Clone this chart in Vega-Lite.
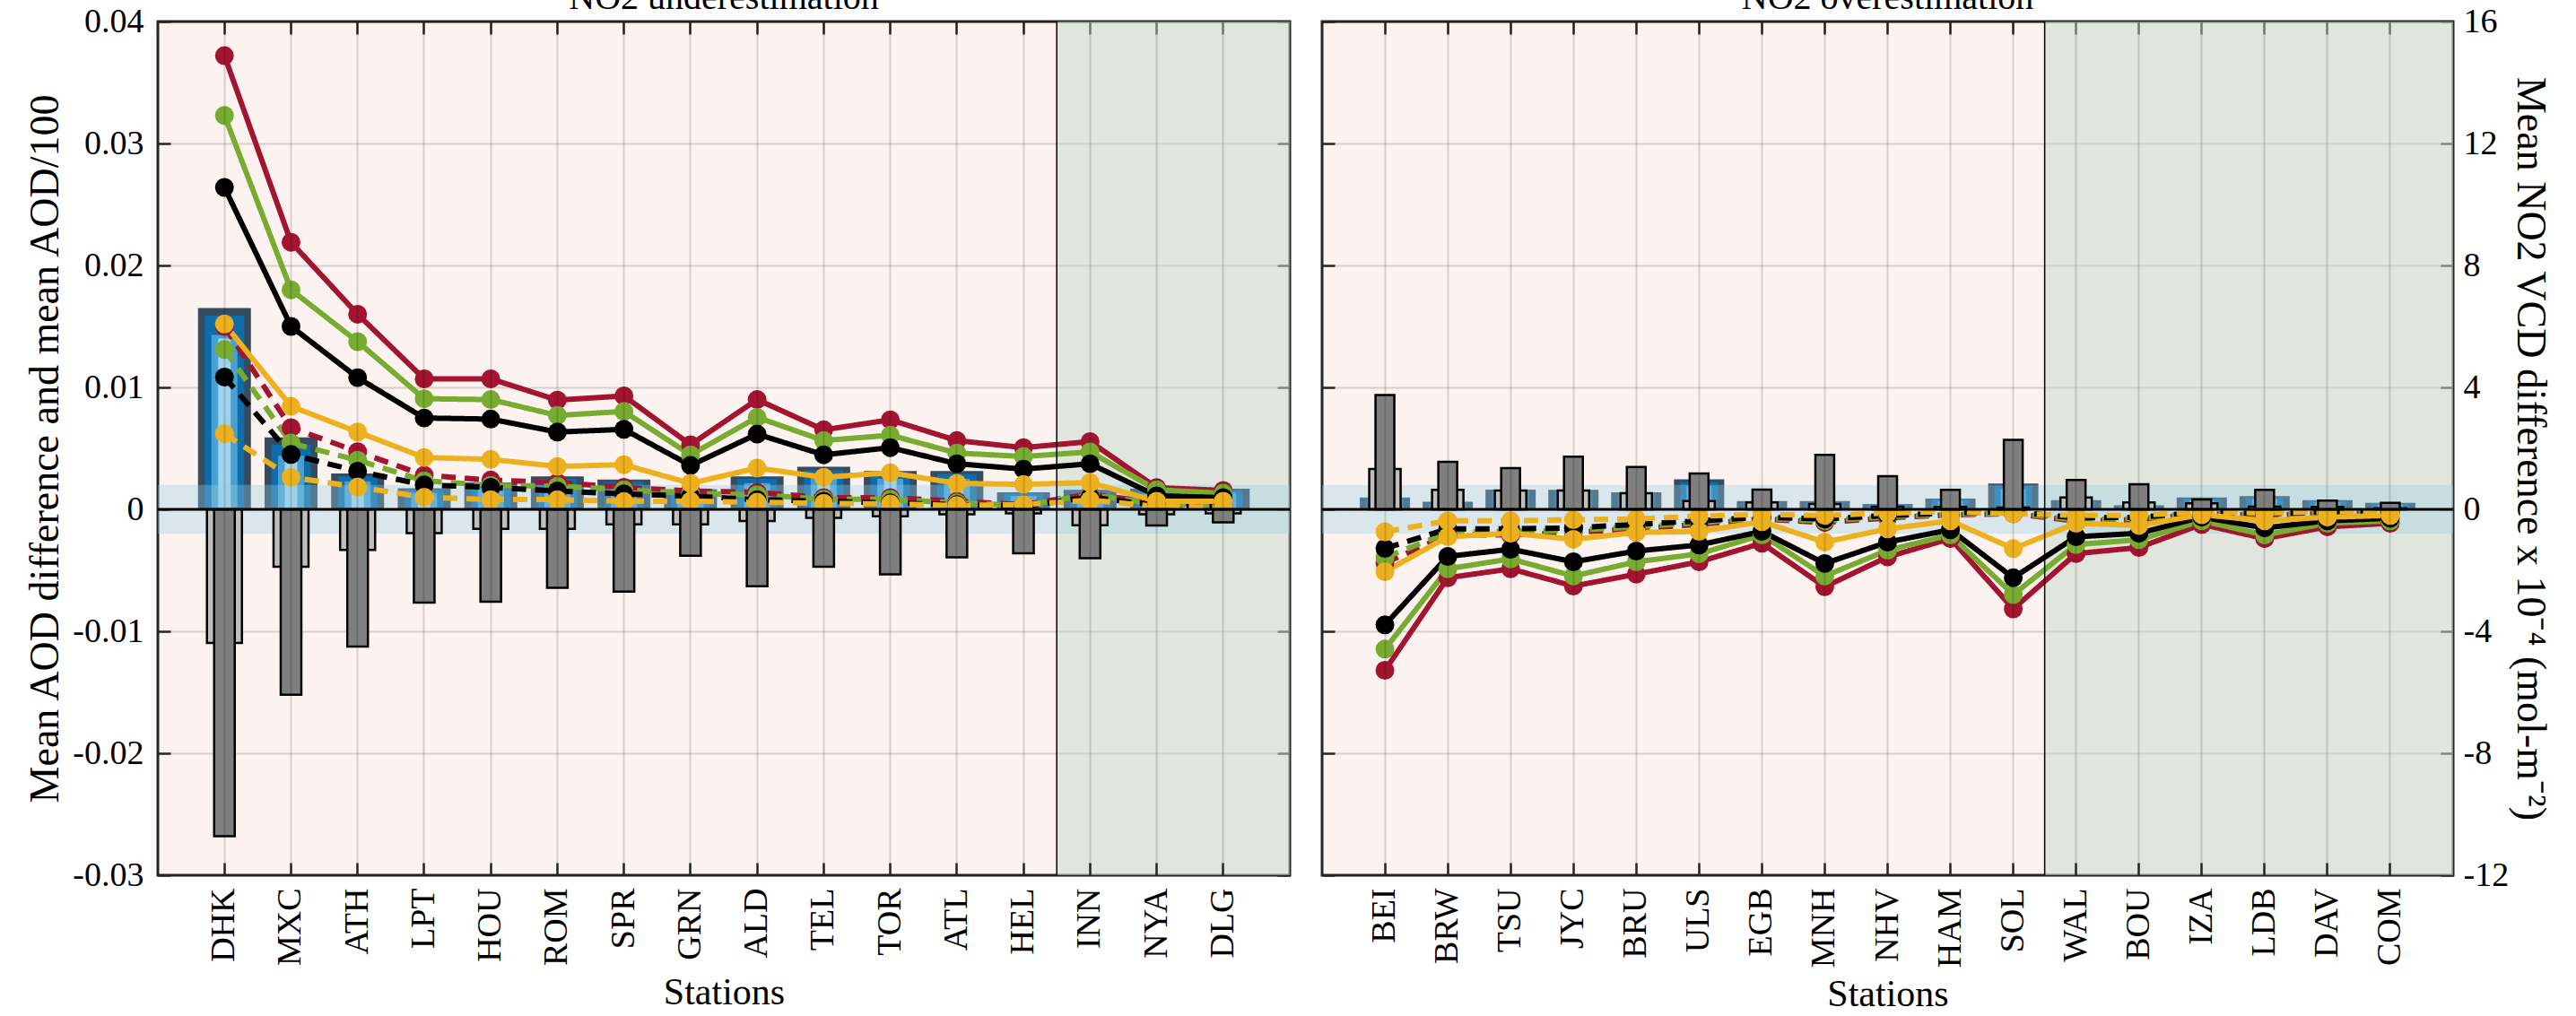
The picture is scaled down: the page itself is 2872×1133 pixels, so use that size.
{
  "$schema": "https://vega.github.io/schema/vega-lite/v6.json",
  "background": "white",
  "padding": {"left": 26, "top": -24, "right": 20, "bottom": 0},
  "config": {
    "font": "Liberation Serif",
    "view": {"fill": "#FCF3F0", "stroke": "#262626", "strokeWidth": 3},
    "axis": {"labelFont": "Liberation Serif", "titleFont": "Liberation Serif", "labelColor": "#000", "titleColor": "#000", "labelFontSize": 38, "titleFontSize": 44, "titleFontWeight": "normal", "domain": false, "tickColor": "#262626", "tickWidth": 2.5, "tickSize": -14, "gridColor": "#000", "gridOpacity": 0.14, "gridWidth": 2},
    "title": {"font": "Liberation Serif", "fontSize": 40, "fontWeight": "normal", "color": "#000"}
  },
  "datasets": {
    "under": [
      {"station": "DHK", "aod1": 0.0165, "aod2": 0.0159, "aod3": 0.0143, "aod4": 0.0140, "vcd1": -4.38, "vcd2": -10.72, "L1": 0.0372, "L2": 0.0323, "L3": 0.0264, "L4": 0.0152, "D1": 0.0150, "D2": 0.0131, "D3": 0.01085, "D4": 0.0062},
      {"station": "MXC", "aod1": 0.0059, "aod2": 0.0053, "aod3": 0.0044, "aod4": 0.0043, "vcd1": -1.88, "vcd2": -6.08, "L1": 0.0219, "L2": 0.0180, "L3": 0.0150, "L4": 0.00845, "D1": 0.0067, "D2": 0.00544, "D3": 0.0045, "D4": 0.00262},
      {"station": "ATH", "aod1": 0.00295, "aod2": 0.0027, "aod3": 0.0023, "aod4": 0.0022, "vcd1": -1.33, "vcd2": -4.5, "L1": 0.0160, "L2": 0.01375, "L3": 0.0108, "L4": 0.00634, "D1": 0.00473, "D2": 0.00403, "D3": 0.00313, "D4": 0.00183},
      {"station": "LPT", "aod1": 0.00173, "aod2": 0.0016, "aod3": 0.00135, "aod4": 0.0013, "vcd1": -0.78, "vcd2": -3.06, "L1": 0.0107, "L2": 0.00907, "L3": 0.00749, "L4": 0.00425, "D1": 0.0028, "D2": 0.00234, "D3": 0.0020, "D4": 0.0010},
      {"station": "HOU", "aod1": 0.0022, "aod2": 0.0020, "aod3": 0.00175, "aod4": 0.0017, "vcd1": -0.64, "vcd2": -3.03, "L1": 0.0107, "L2": 0.0090, "L3": 0.0074, "L4": 0.0041, "D1": 0.0024, "D2": 0.00197, "D3": 0.0018, "D4": 0.0008},
      {"station": "ROM", "aod1": 0.0027, "aod2": 0.0025, "aod3": 0.00215, "aod4": 0.0021, "vcd1": -0.64, "vcd2": -2.57, "L1": 0.00896, "L2": 0.0077, "L3": 0.00634, "L4": 0.00352, "D1": 0.0022, "D2": 0.0019, "D3": 0.0015, "D4": 0.0008},
      {"station": "SPR", "aod1": 0.00245, "aod2": 0.00225, "aod3": 0.00195, "aod4": 0.0019, "vcd1": -0.49, "vcd2": -2.7, "L1": 0.0093, "L2": 0.00803, "L3": 0.00656, "L4": 0.00366, "D1": 0.0018, "D2": 0.0016, "D3": 0.00127, "D4": 0.00065},
      {"station": "GRN", "aod1": 0.00165, "aod2": 0.0015, "aod3": 0.0013, "aod4": 0.00125, "vcd1": -0.49, "vcd2": -1.52, "L1": 0.0053, "L2": 0.00447, "L3": 0.0036, "L4": 0.00213, "D1": 0.0015, "D2": 0.0013, "D3": 0.00108, "D4": 0.00067},
      {"station": "ALD", "aod1": 0.0027, "aod2": 0.0025, "aod3": 0.00215, "aod4": 0.0021, "vcd1": -0.38, "vcd2": -2.52, "L1": 0.0090, "L2": 0.00754, "L3": 0.00617, "L4": 0.00339, "D1": 0.0014, "D2": 0.0012, "D3": 0.0008, "D4": 0.00058},
      {"station": "TEL", "aod1": 0.0035, "aod2": 0.0032, "aod3": 0.0028, "aod4": 0.0027, "vcd1": -0.28, "vcd2": -1.88, "L1": 0.00652, "L2": 0.00564, "L3": 0.00447, "L4": 0.00263, "D1": 0.00096, "D2": 0.00082, "D3": 0.00067, "D4": 0.0005},
      {"station": "TOR", "aod1": 0.00315, "aod2": 0.0029, "aod3": 0.0025, "aod4": 0.00245, "vcd1": -0.23, "vcd2": -2.13, "L1": 0.00734, "L2": 0.00608, "L3": 0.00506, "L4": 0.0030, "D1": 0.00096, "D2": 0.00082, "D3": 0.00053, "D4": 0.00044},
      {"station": "ATL", "aod1": 0.00315, "aod2": 0.0029, "aod3": 0.0025, "aod4": 0.00245, "vcd1": -0.16, "vcd2": -1.57, "L1": 0.00564, "L2": 0.00462, "L3": 0.00374, "L4": 0.00213, "D1": 0.00067, "D2": 0.00053, "D3": 0.00038, "D4": 0.00032},
      {"station": "HEL", "aod1": 0.0014, "aod2": 0.0013, "aod3": 0.0011, "aod4": 0.00105, "vcd1": -0.13, "vcd2": -1.44, "L1": 0.00506, "L2": 0.00433, "L3": 0.0033, "L4": 0.00205, "D1": 0.00038, "D2": 0.00032, "D3": 0.00023, "D4": 0.00038},
      {"station": "INN", "aod1": 0.0016, "aod2": 0.00145, "aod3": 0.00125, "aod4": 0.0012, "vcd1": -0.52, "vcd2": -1.6, "L1": 0.00556, "L2": 0.00471, "L3": 0.00374, "L4": 0.00219, "D1": 0.00126, "D2": 0.0012, "D3": 0.00102, "D4": 0.00076},
      {"station": "NYA", "aod1": 0.0017, "aod2": 0.00155, "aod3": 0.00135, "aod4": 0.0013, "vcd1": -0.16, "vcd2": -0.53, "L1": 0.00178, "L2": 0.0016, "L3": 0.00111, "L4": 0.00067, "D1": 0.00053, "D2": 0.00044, "D3": 0.00032, "D4": 0.00023},
      {"station": "DLG", "aod1": 0.0017, "aod2": 0.00155, "aod3": 0.00135, "aod4": 0.0013, "vcd1": -0.13, "vcd2": -0.43, "L1": 0.00155, "L2": 0.00132, "L3": 0.00096, "L4": 0.00067, "D1": 0.00038, "D2": 0.00032, "D3": 0.00023, "D4": 0.0002}
    ],
    "over": [
      {"station": "BEI", "aod1": 0.00098, "aod2": 0.0009, "aod3": 0.00078, "aod4": 0.00075, "vcd1": 1.32, "vcd2": 3.75, "L1": -0.0132, "L2": -0.01146, "L3": -0.00947, "L4": -0.00512, "D1": -0.0044, "D2": -0.00395, "D3": -0.0032, "D4": -0.00184},
      {"station": "BRW", "aod1": 0.00062, "aod2": 0.00056, "aod3": 0.00048, "aod4": 0.00046, "vcd1": 0.64, "vcd2": 1.56, "L1": -0.00561, "L2": -0.00488, "L3": -0.00386, "L4": -0.00225, "D1": -0.0021, "D2": -0.0019, "D3": -0.0016, "D4": -0.00094},
      {"station": "TSU", "aod1": 0.00162, "aod2": 0.00146, "aod3": 0.00126, "aod4": 0.0012, "vcd1": 0.62, "vcd2": 1.35, "L1": -0.00488, "L2": -0.00406, "L3": -0.00327, "L4": -0.00196, "D1": -0.0021, "D2": -0.0018, "D3": -0.0016, "D4": -0.00094},
      {"station": "JYC", "aod1": 0.0016, "aod2": 0.00144, "aod3": 0.00125, "aod4": 0.0012, "vcd1": 0.62, "vcd2": 1.73, "L1": -0.00629, "L2": -0.00547, "L3": -0.0043, "L4": -0.00246, "D1": -0.0019, "D2": -0.00172, "D3": -0.00152, "D4": -0.00085},
      {"station": "BRU", "aod1": 0.0014, "aod2": 0.00126, "aod3": 0.00109, "aod4": 0.00105, "vcd1": 0.53, "vcd2": 1.39, "L1": -0.00532, "L2": -0.0043, "L3": -0.00342, "L4": -0.0019, "D1": -0.0016, "D2": -0.00143, "D3": -0.00123, "D4": -0.00079},
      {"station": "ULS", "aod1": 0.00247, "aod2": 0.00222, "aod3": 0.00193, "aod4": 0.00185, "vcd1": 0.27, "vcd2": 1.18, "L1": -0.0043, "L2": -0.00365, "L3": -0.00292, "L4": -0.00181, "D1": -0.00123, "D2": -0.00108, "D3": -0.00094, "D4": -0.00056},
      {"station": "EGB", "aod1": 0.00068, "aod2": 0.00061, "aod3": 0.00053, "aod4": 0.00051, "vcd1": 0.23, "vcd2": 0.65, "L1": -0.00278, "L2": -0.0021, "L3": -0.00181, "L4": -0.00102, "D1": -0.00079, "D2": -0.00073, "D3": -0.00064, "D4": -0.00041},
      {"station": "MNH", "aod1": 0.00068, "aod2": 0.00061, "aod3": 0.00053, "aod4": 0.00051, "vcd1": 0.18, "vcd2": 1.79, "L1": -0.00635, "L2": -0.00547, "L3": -0.00444, "L4": -0.00269, "D1": -0.00108, "D2": -0.00094, "D3": -0.00079, "D4": -0.0005},
      {"station": "NHV", "aod1": 0.00045, "aod2": 0.0004, "aod3": 0.00035, "aod4": 0.00034, "vcd1": 0.09, "vcd2": 1.09, "L1": -0.0039, "L2": -0.00335, "L3": -0.00269, "L4": -0.0016, "D1": -0.0007, "D2": -0.0006, "D3": -0.0005, "D4": -0.0003},
      {"station": "HAM", "aod1": 0.00088, "aod2": 0.00079, "aod3": 0.00069, "aod4": 0.00066, "vcd1": 0.08, "vcd2": 0.64, "L1": -0.0024, "L2": -0.0021, "L3": -0.00167, "L4": -0.00094, "D1": -0.00045, "D2": -0.0004, "D3": -0.0003, "D4": -0.0002},
      {"station": "SOL", "aod1": 0.00212, "aod2": 0.00191, "aod3": 0.00165, "aod4": 0.00159, "vcd1": 0.06, "vcd2": 2.28, "L1": -0.00816, "L2": -0.00699, "L3": -0.00561, "L4": -0.00322, "D1": -0.00035, "D2": -0.0003, "D3": -0.0002, "D4": -0.00035},
      {"station": "WAL", "aod1": 0.00075, "aod2": 0.00068, "aod3": 0.00059, "aod4": 0.00056, "vcd1": 0.39, "vcd2": 0.96, "L1": -0.00363, "L2": -0.00289, "L3": -0.00225, "L4": -0.00114, "D1": -0.00095, "D2": -0.00085, "D3": -0.0007, "D4": -0.0005},
      {"station": "BOU", "aod1": 0.00033, "aod2": 0.0003, "aod3": 0.00026, "aod4": 0.00025, "vcd1": 0.23, "vcd2": 0.82, "L1": -0.00313, "L2": -0.00249, "L3": -0.00196, "L4": -0.00132, "D1": -0.00085, "D2": -0.00075, "D3": -0.00065, "D4": -0.0005},
      {"station": "IZA", "aod1": 0.00098, "aod2": 0.00088, "aod3": 0.00076, "aod4": 0.00074, "vcd1": 0.2, "vcd2": 0.32, "L1": -0.00123, "L2": -0.00094, "L3": -0.00064, "L4": -0.00044, "D1": -0.00035, "D2": -0.0003, "D3": -0.00025, "D4": -0.0002},
      {"station": "LDB", "aod1": 0.00108, "aod2": 0.00097, "aod3": 0.00084, "aod4": 0.00081, "vcd1": 0.09, "vcd2": 0.64, "L1": -0.0024, "L2": -0.0021, "L3": -0.00152, "L4": -0.00094, "D1": -0.0005, "D2": -0.00045, "D3": -0.00035, "D4": -0.0003},
      {"station": "DAV", "aod1": 0.00075, "aod2": 0.00068, "aod3": 0.00059, "aod4": 0.00056, "vcd1": 0.08, "vcd2": 0.29, "L1": -0.00143, "L2": -0.00114, "L3": -0.00094, "L4": -0.00064, "D1": -0.00035, "D2": -0.0003, "D3": -0.00025, "D4": -0.0002},
      {"station": "COM", "aod1": 0.00053, "aod2": 0.00048, "aod3": 0.00041, "aod4": 0.0004, "vcd1": 0.04, "vcd2": 0.21, "L1": -0.00114, "L2": -0.00094, "L3": -0.00073, "L4": -0.0005, "D1": -0.0003, "D2": -0.00025, "D3": -0.0002, "D4": -0.00015}
    ]
  },
  "spacing": 36,
  "bounds": "flush",
  "hconcat": [
    {
      "width": 1262,
      "height": 952,
      "title": {"text": "NO2 underestimation", "offset": -45, "baseline": "alphabetic", "frame": "group"},
      "layer": [
        {
          "layer": [
            {"data": {"values": [{}]}, "mark": {"type": "rect", "color": "#C9D9D0", "opacity": 0.55}, "encoding": {"x": {"datum": "INN", "type": "nominal", "bandPosition": 0}, "x2": {"value": "width"}, "y": {"value": 0}, "y2": {"value": "height"}}},
            {"data": {"name": "under"}, "mark": {"type": "bar", "size": 59, "color": "#344B60"},
             "encoding": {
               "x": {"field": "station", "type": "nominal", "scale": {"type": "band", "domain": ["DHK","MXC","ATH","LPT","HOU","ROM","SPR","GRN","ALD","TEL","TOR","ATL","HEL","INN","NYA","DLG"], "paddingInner": 0, "paddingOuter": 0.5}, "axis": {"orient": "bottom", "title": "Stations", "titleFontSize": 42, "titlePadding": 10, "labelAngle": -90, "labelPadding": 28, "grid": true}},
               "y": {"field": "aod1", "type": "quantitative", "scale": {"domain": [-0.03, 0.04], "nice": false, "zero": false}, "axis": {"orient": "left", "values": [-0.03, -0.02, -0.01, 0, 0.01, 0.02, 0.03, 0.04], "labelExpr": "datum.value == 0 ? '0' : (datum.value < 0 ? '-' + format(-datum.value, '.2f') : format(datum.value, '.2f'))", "title": "Mean AOD difference and mean AOD/100", "titleFontSize": 46, "labelPadding": 30, "titlePadding": 6, "grid": true}}
             }},
            {"data": {"name": "under"}, "mark": {"type": "bar", "size": 44, "color": "#0E6CAA"}, "encoding": {"x": {"field": "station", "type": "nominal"}, "y": {"field": "aod2", "type": "quantitative"}}},
            {"data": {"name": "under"}, "mark": {"type": "bar", "size": 29, "color": "#4AA0D2"}, "encoding": {"x": {"field": "station", "type": "nominal"}, "y": {"field": "aod3", "type": "quantitative"}}},
            {"data": {"name": "under"}, "mark": {"type": "bar", "size": 14, "color": "#9FD3EC"}, "encoding": {"x": {"field": "station", "type": "nominal"}, "y": {"field": "aod4", "type": "quantitative"}}},
            {"data": {"values": [{}]}, "mark": {"type": "rect", "color": "#99D0E6", "opacity": 0.35}, "encoding": {"x": {"value": 0}, "x2": {"value": "width"}, "y": {"datum": -0.002, "type": "quantitative"}, "y2": {"datum": 0.002}}},
            {"data": {"name": "under"}, "transform": [{"fold": ["D1","D2","D3","D4","L1","L2","L3","L4"], "as": ["series", "diff"]}],
             "mark": {"type": "line", "strokeWidth": 6},
             "encoding": {
               "x": {"field": "station", "type": "nominal"},
               "y": {"field": "diff", "type": "quantitative"},
               "color": {"field": "series", "type": "nominal", "scale": {"domain": ["D1","D2","D3","D4","L1","L2","L3","L4"], "range": ["#A2142F","#77AC30","#000000","#EDB120","#A2142F","#77AC30","#000000","#EDB120"]}, "legend": null},
               "strokeDash": {"field": "series", "type": "nominal", "scale": {"domain": ["D1","D2","D3","D4","L1","L2","L3","L4"], "range": [[16,10],[16,10],[16,10],[16,10],[1,0],[1,0],[1,0],[1,0]]}, "legend": null}
             }},
            {"data": {"name": "under"}, "transform": [{"fold": ["D1","D2","D3","D4","L1","L2","L3","L4"], "as": ["series", "diff"]}],
             "mark": {"type": "circle", "size": 440, "opacity": 1},
             "encoding": {
               "x": {"field": "station", "type": "nominal"},
               "y": {"field": "diff", "type": "quantitative"},
               "color": {"field": "series", "type": "nominal", "legend": null}
             }},
            {"data": {"values": [{}]}, "mark": {"type": "rule", "color": "#000", "strokeWidth": 1.5}, "encoding": {"x": {"datum": "INN", "type": "nominal", "bandPosition": 0}}}
          ]
        },
        {
          "layer": [
            {"data": {"name": "under"}, "mark": {"type": "bar", "size": 39, "color": "#BFBFBF", "stroke": "#000", "strokeWidth": 2.5},
             "encoding": {
               "x": {"field": "station", "type": "nominal", "axis": {"orient": "top", "labels": false, "title": null, "grid": false}},
               "y": {"field": "vcd1", "type": "quantitative", "scale": {"domain": [-12, 16], "nice": false, "zero": false}, "axis": {"orient": "right", "values": [-12, -8, -4, 0, 4, 8, 12, 16], "labels": false, "title": null, "grid": false}}
             }},
            {"data": {"name": "under"}, "mark": {"type": "bar", "size": 23, "color": "#7F7F7F", "stroke": "#000", "strokeWidth": 2.5}, "encoding": {"x": {"field": "station", "type": "nominal"}, "y": {"field": "vcd2", "type": "quantitative"}}},
            {"data": {"values": [{}]}, "mark": {"type": "rule", "color": "#000", "strokeWidth": 3}, "encoding": {"y": {"datum": 0, "type": "quantitative"}}}
          ]
        }
      ],
      "resolve": {"scale": {"y": "independent"}, "axis": {"x": "independent", "y": "independent"}}
    },
    {
      "width": 1261,
      "height": 952,
      "title": {"text": "NO2 overestimation", "offset": -45, "baseline": "alphabetic", "frame": "group"},
      "layer": [
        {
          "layer": [
            {"data": {"values": [{}]}, "mark": {"type": "rect", "color": "#C9D9D0", "opacity": 0.55}, "encoding": {"x": {"datum": "WAL", "type": "nominal", "bandPosition": 0}, "x2": {"value": "width"}, "y": {"value": 0}, "y2": {"value": "height"}}},
            {"data": {"name": "over"}, "mark": {"type": "bar", "size": 56, "color": "#344B60"},
             "encoding": {
               "x": {"field": "station", "type": "nominal", "scale": {"type": "band", "domain": ["BEI","BRW","TSU","JYC","BRU","ULS","EGB","MNH","NHV","HAM","SOL","WAL","BOU","IZA","LDB","DAV","COM"], "paddingInner": 0, "paddingOuter": 0.5}, "axis": {"orient": "bottom", "title": "Stations", "titleFontSize": 42, "titlePadding": 10, "labelAngle": -90, "labelPadding": 28, "grid": true}},
               "y": {"field": "aod1", "type": "quantitative", "scale": {"domain": [-0.03, 0.04], "nice": false, "zero": false}, "axis": {"orient": "left", "values": [-0.03, -0.02, -0.01, 0, 0.01, 0.02, 0.03, 0.04], "labels": false, "title": null, "grid": true}}
             }},
            {"data": {"name": "over"}, "mark": {"type": "bar", "size": 42, "color": "#0E6CAA"}, "encoding": {"x": {"field": "station", "type": "nominal"}, "y": {"field": "aod2", "type": "quantitative"}}},
            {"data": {"name": "over"}, "mark": {"type": "bar", "size": 28, "color": "#4AA0D2"}, "encoding": {"x": {"field": "station", "type": "nominal"}, "y": {"field": "aod3", "type": "quantitative"}}},
            {"data": {"name": "over"}, "mark": {"type": "bar", "size": 14, "color": "#9FD3EC"}, "encoding": {"x": {"field": "station", "type": "nominal"}, "y": {"field": "aod4", "type": "quantitative"}}},
            {"data": {"values": [{}]}, "mark": {"type": "rect", "color": "#99D0E6", "opacity": 0.35}, "encoding": {"x": {"value": 0}, "x2": {"value": "width"}, "y": {"datum": -0.002, "type": "quantitative"}, "y2": {"datum": 0.002}}},
            {"data": {"name": "over"}, "transform": [{"fold": ["D1","D2","D3","D4","L1","L2","L3","L4"], "as": ["series", "diff"]}],
             "mark": {"type": "line", "strokeWidth": 6},
             "encoding": {
               "x": {"field": "station", "type": "nominal"},
               "y": {"field": "diff", "type": "quantitative"},
               "color": {"field": "series", "type": "nominal", "scale": {"domain": ["D1","D2","D3","D4","L1","L2","L3","L4"], "range": ["#A2142F","#77AC30","#000000","#EDB120","#A2142F","#77AC30","#000000","#EDB120"]}, "legend": null},
               "strokeDash": {"field": "series", "type": "nominal", "scale": {"domain": ["D1","D2","D3","D4","L1","L2","L3","L4"], "range": [[16,10],[16,10],[16,10],[16,10],[1,0],[1,0],[1,0],[1,0]]}, "legend": null}
             }},
            {"data": {"name": "over"}, "transform": [{"fold": ["D1","D2","D3","D4","L1","L2","L3","L4"], "as": ["series", "diff"]}],
             "mark": {"type": "circle", "size": 440, "opacity": 1},
             "encoding": {
               "x": {"field": "station", "type": "nominal"},
               "y": {"field": "diff", "type": "quantitative"},
               "color": {"field": "series", "type": "nominal", "legend": null}
             }},
            {"data": {"values": [{}]}, "mark": {"type": "rule", "color": "#000", "strokeWidth": 1.5}, "encoding": {"x": {"datum": "WAL", "type": "nominal", "bandPosition": 0}}}
          ]
        },
        {
          "layer": [
            {"data": {"name": "over"}, "mark": {"type": "bar", "size": 35, "color": "#BFBFBF", "stroke": "#000", "strokeWidth": 2.5},
             "encoding": {
               "x": {"field": "station", "type": "nominal", "axis": {"orient": "top", "labels": false, "title": null, "grid": false}},
               "y": {"field": "vcd1", "type": "quantitative", "scale": {"domain": [-12, 16], "nice": false, "zero": false}, "axis": {"orient": "right", "values": [-12, -8, -4, 0, 4, 8, 12, 16], "labelExpr": "datum.value < 0 ? '-' + format(-datum.value, 'd') : format(datum.value, 'd')", "title": "Mean NO2 VCD difference x 10⁻⁴ (mol-m⁻²)", "titleFontSize": 46, "labelPadding": 25, "titlePadding": 0, "grid": false}}
             }},
            {"data": {"name": "over"}, "mark": {"type": "bar", "size": 21, "color": "#7F7F7F", "stroke": "#000", "strokeWidth": 2.5}, "encoding": {"x": {"field": "station", "type": "nominal"}, "y": {"field": "vcd2", "type": "quantitative"}}},
            {"data": {"values": [{}]}, "mark": {"type": "rule", "color": "#000", "strokeWidth": 3}, "encoding": {"y": {"datum": 0, "type": "quantitative"}}}
          ]
        }
      ],
      "resolve": {"scale": {"y": "independent"}, "axis": {"x": "independent", "y": "independent"}}
    }
  ]
}
